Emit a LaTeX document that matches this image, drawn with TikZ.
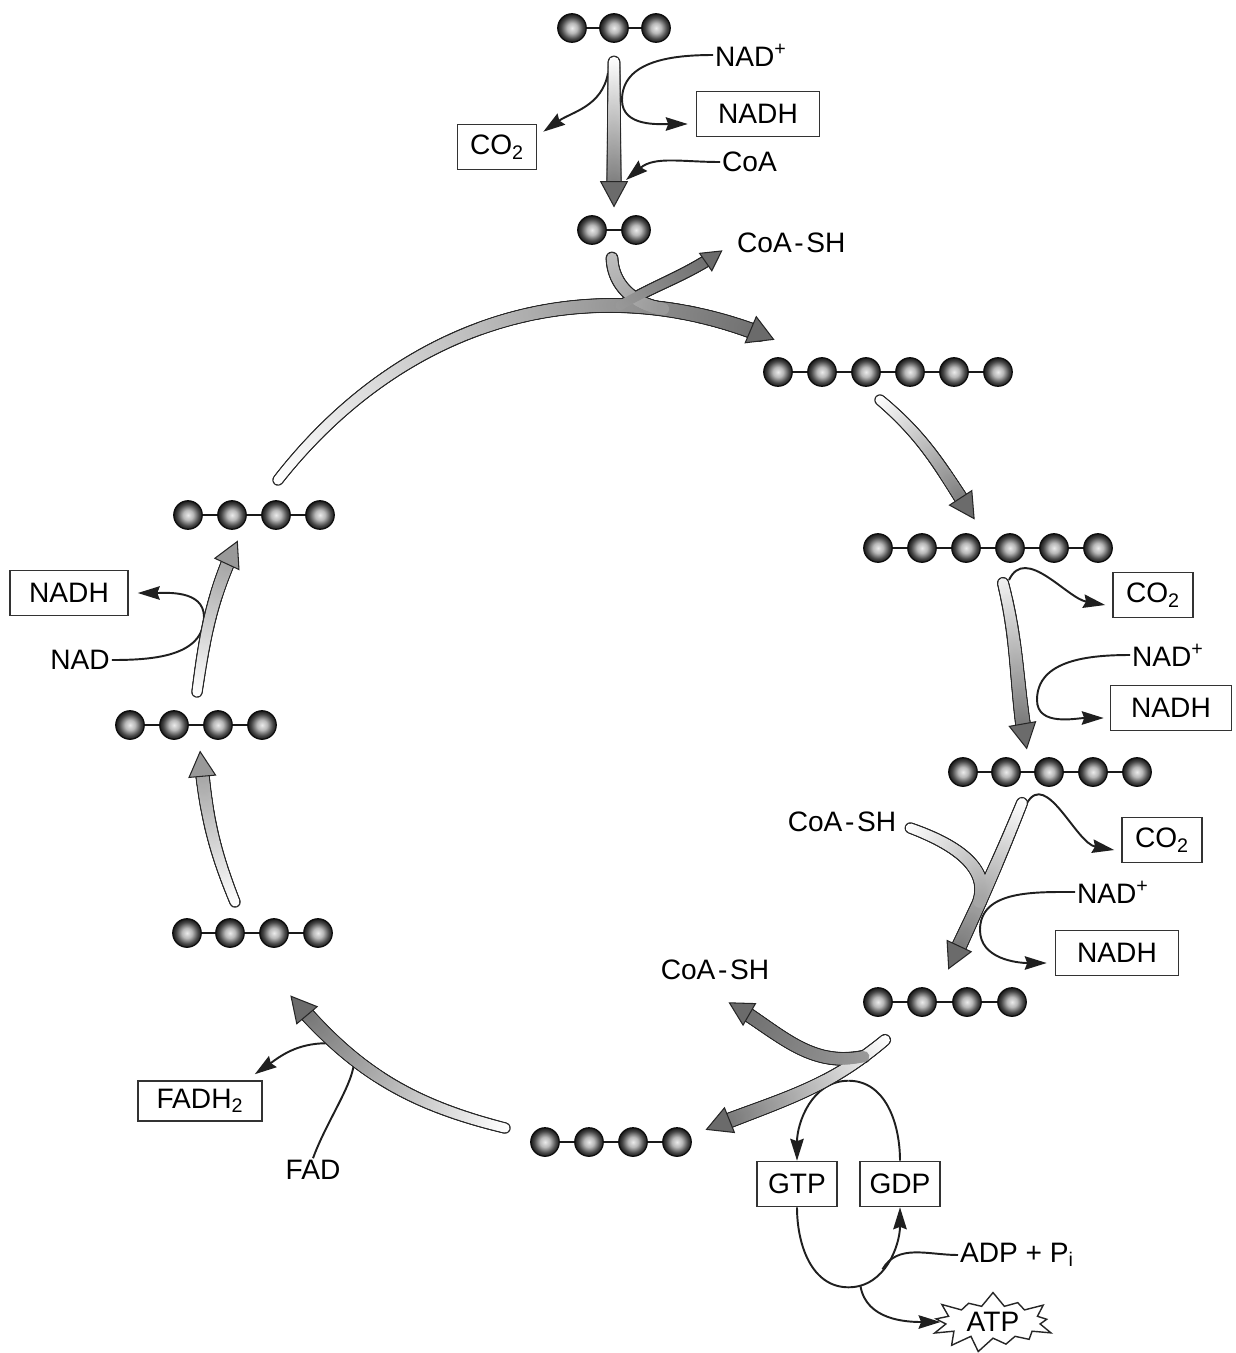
\documentclass[tikz,border=0pt]{standalone}
\usepackage{tikz}
\usetikzlibrary{arrows.meta,decorations.markings,calc,shapes.symbols}
\usepackage{fontspec}
\setmainfont{Liberation Sans}
\pgfdeclareradialshading{molball}{\pgfpoint{0bp}{0bp}}{color(0bp)=(black!8); color(9bp)=(black!28); color(19bp)=(black!72); color(25bp)=(black!90); color(50bp)=(black!92)}
\newcommand\molchain[3]{%
  \foreach \xx [count=\ii] in {#3} {\node[ball] (#1\ii) at (\xx,-#2) {};}
  \foreach \xx [count=\ii, remember=\ii as \jj (initially 0)] in {#3} {\ifnum\jj>0 \draw[bond] (#1\jj.east) -- (#1\ii.west);\fi}
}
\newcommand\coash{CoA\kern1.5pt-\kern1.5pt SH}
\begin{document}
\begin{tikzpicture}[x=0.02cm,y=0.02cm,
  ball/.style={circle, minimum size=0.57cm, inner sep=0pt, shading=molball, draw=black!95, line width=0.7pt},
  bond/.style={draw=black!90, line width=1.3pt},
  lbl/.style={font=\fontsize{16}{19}\selectfont, inner sep=1pt},
  box/.style={lbl, draw=black!80, line width=0.9pt, fill=white, minimum height=0.9cm, inner xsep=2pt},
  burst/.style={lbl, shape=starburst, draw=black!85, fill=white, line width=0.8pt, starburst points=13, starburst point height=0.3cm, minimum width=2.5cm, minimum height=1.2cm, random starburst=40},
  tline/.style={draw=black!88, line width=1.1pt},
  tarr/.style={tline, -{Stealth[length=0.44cm, width=0.27cm, inset=0.05cm]}},
  bandout/.style n args={3}{postaction={decorate,decoration={markings,
    mark=between positions 0 and #3 step 0.7pt with {%
      \pgfmathsetmacro\bandfrac{\pgfkeysvalueof{/pgf/decoration/mark info/distance from start}/\pgfdecoratedpathlength}%
      \pgfmathsetlengthmacro\bandrad{#1+(#2-#1)*\bandfrac+0.65pt}%
      \fill[black!85] (0,0) circle[radius=\bandrad];}}}},
  bandfill/.style n args={5}{postaction={decorate,decoration={markings,
    mark=between positions 0 and #5 step 0.7pt with {%
      \pgfmathsetmacro\bandfrac{\pgfkeysvalueof{/pgf/decoration/mark info/distance from start}/\pgfdecoratedpathlength}%
      \pgfmathsetlengthmacro\bandrad{#3+(#4-#3)*\bandfrac}%
      \pgfmathsetmacro\bandcol{#1+(#2-#1)*\bandfrac}%
      \fill[black!\bandcol] (0,0) circle[radius=\bandrad];}}}},
  band/.style n args={5}{bandout={#3}{#4}{#5}, bandfill={#1}{#2}{#3}{#4}{#5}},
  tipmark/.style n args={3}{postaction={decorate,decoration={markings,
    mark=at position -0.3pt with {\arrow[black!85, line width=0.6pt]{Triangle[length=#2, width=#3, fill=black!#1]}}}}}
]
\useasboundingbox (0,0) rectangle (1235,-1353);

% molecules
\molchain{pyr}{28}{572,614,656}
\molchain{ace}{230}{592,636}
\molchain{cit}{372}{778,822,866,910,954,998}
\molchain{iso}{548}{878,922,966,1010,1054,1098}
\molchain{akg}{772}{963,1006,1049,1093,1137}
\molchain{scoa}{1002}{878,922,967,1012}
\molchain{suc}{1142}{545,589,633,677}
\molchain{fum}{933}{187,230,274,318}
\molchain{mal}{725}{130,174,218,262}
\molchain{oaa}{515}{188,232,276,320}

% labels
\node[lbl, anchor=west] (nadA) at (713,-55) {NAD\textsuperscript{+}};
\node[box, minimum width=2.46cm] (nadhA) at (758,-114) {NADH};
\node[box, minimum width=1.58cm] (co2A) at (497,-147) {CO\textsubscript{2}};
\node[lbl, anchor=west] (coaA) at (720,-162) {CoA};
\node[lbl, anchor=west] (coashA) at (735,-243) {\coash};
\node[box, minimum width=1.6cm] (co2B) at (1153,-595) {CO\textsubscript{2}};
\node[lbl, anchor=west] (nadB) at (1130,-655) {NAD\textsuperscript{+}};
\node[box, minimum width=2.42cm] (nadhB) at (1171,-708) {NADH};
\node[lbl] (coashB) at (842,-822) {\coash};
\node[box, minimum width=1.6cm] (co2C) at (1162,-840) {CO\textsubscript{2}};
\node[lbl, anchor=west] (nadC) at (1075,-892) {NAD\textsuperscript{+}};
\node[box, minimum width=2.46cm] (nadhC) at (1117,-953) {NADH};
\node[lbl] (coashC) at (715,-970) {\coash};
\node[box, minimum width=1.6cm] (gtp) at (797,-1184) {GTP};
\node[box, minimum width=1.6cm] (gdp) at (900,-1184) {GDP};
\node[lbl, anchor=west] (adp) at (958,-1255) {ADP + P\textsubscript{i}};
\node[burst] (atp) at (993,-1322) {ATP};
\node[lbl] (fad) at (313,-1170) {FAD};
\node[box, minimum width=2.48cm, minimum height=0.8cm] (fadh) at (200,-1101) {FADH\textsubscript{2}};
\node[lbl] (nadD) at (80,-660) {NAD};
\node[box, minimum width=2.36cm] (nadhD) at (69,-593) {NADH};

% thin arrows
\draw[tarr] ($(pyr2)+(-6,-45)$) to[out=-100,in=35] ($(co2A.north east)+(6,-8)$);
\draw[tarr] (nadA.west) to[out=180,in=90] ($(pyr2)+(8,-72)$) to[out=-90,in=180] ($(nadhA.west)+(-8,-10)$);
\draw[tarr] (coaA.west) to[out=180,in=40] ($(pyr2)+(12,-152)$);
\draw[tarr] ($(iso4)+(-1,-32)$) to[out=65,in=170] ($(co2B.west)+(-7,-10)$);
\draw[tarr] (nadB.west) to[out=180,in=90] ($(akg2)+(31,72)$) to[out=-90,in=180] ($(nadhB.west)+(-6,-10)$);
\draw[tarr] ($(akg2)+(21,-31)$) to[out=60,in=170] ($(co2C.west)+(-7,-10)$);
\draw[tarr] (nadC.west) to[out=180,in=90] ($(scoa3)+(13,72)$) to[out=-90,in=180] ($(nadhC.west)+(-8,-10)$);
\coordinate (looptop) at ($(gtp.north)!0.5!(gdp.north)+(0,80)$);
\coordinate (loopbot) at ($(gtp.south)!0.5!(gdp.south)+(0,-80)$);
\draw[tline] (gdp.north) to[out=90,in=0] (looptop);
\draw[tarr] (looptop) to[out=180,in=90] (gtp.north);
\draw[tarr] (gtp.south) to[out=-90,in=180] (loopbot) to[out=0,in=-90] (gdp.south);
\draw[tline] (adp.west) to[out=180,in=60] ($(loopbot)+(34,18)$);
\draw[tarr] ($(loopbot)+(12,1)$) to[out=-80,in=180] (atp.west);
\draw[tarr] (fad.north) to[out=70,in=0,looseness=1.3] ($(fad.north)+(14,115)$) to[out=180,in=35] ($(fadh.north east)+(-8,6)$);
\draw[tarr] (nadD.east) to[out=0,in=-90] ($(mal2)+(30,108)$) to[out=90,in=0] ($(nadhD.east)+(9,0)$);

% band arrows
\path[band={0}{58}{3pt}{3.8pt}{-12pt}, tipmark={58}{15pt}{16pt}] ($(pyr2)+(0,-34)$) -- ($(ace1)!0.5!(ace2)+(0,22)$);

% top junction
\path[bandout={2.6pt}{4pt}{-12pt}] ($(oaa3)!0.5!(oaa4)+(-20,35)$) to[out=52,in=157] coordinate[pos=0.8] (jA) coordinate[pos=0.72] (jB) ($(cit1)+(-3,32)$);
\path[bandout={3pt}{3.4pt}{1}] ($(ace1)!0.5!(ace2)+(-2,-28)$) to[out=-88,in=172] (jA);
\path[bandout={2.6pt}{3pt}{-10pt}] (jB) to[out=30,in=-145] ($(coashA.west)+(-12,-7)$);
\path[bandfill={0}{58}{2.6pt}{4pt}{-12pt}, tipmark={58}{15pt}{17pt}] ($(oaa3)!0.5!(oaa4)+(-20,35)$) to[out=52,in=157] ($(cit1)+(-3,32)$);
\path[bandfill={25}{40}{3pt}{3.4pt}{1}] ($(ace1)!0.5!(ace2)+(-2,-28)$) to[out=-88,in=172] (jA);
\path[bandfill={40}{58}{2.6pt}{3pt}{-10pt}, tipmark={58}{12pt}{13pt}] (jB) to[out=30,in=-145] ($(coashA.west)+(-12,-7)$);

\path[band={0}{58}{2.6pt}{3.6pt}{-12pt}, tipmark={58}{15pt}{16pt}] ($(cit3)+(14,-28)$) to[out=-40,in=123] ($(iso3)+(9,28)$);
\path[band={5}{58}{2.8pt}{4pt}{-12pt}, tipmark={58}{15pt}{16pt}] ($(iso4)+(-7,-35)$) to[out=-76,in=100] ($(akg2)+(21,22)$);

% right junction
\path[bandout={2.8pt}{4pt}{-12pt}] ($(akg2)+(16,-31)$) to[out=-112,in=65] coordinate[pos=0.6] (jC) ($(scoa2)+(26,32)$);
\path[bandout={2.6pt}{3.6pt}{1}] ($(coashB.east)+(12,-6)$) to[out=-20,in=72] (jC);
\path[bandfill={0}{58}{2.8pt}{4pt}{-12pt}, tipmark={58}{15pt}{16pt}] ($(akg2)+(16,-31)$) to[out=-112,in=65] ($(scoa2)+(26,32)$);
\path[bandfill={0}{35}{2.6pt}{3.6pt}{1}] ($(coashB.east)+(12,-6)$) to[out=-20,in=72] (jC);

% bottom junction
\path[bandout={2.8pt}{4pt}{-12pt}] ($(scoa1)+(7,-38)$) to[out=-140,in=22] coordinate[pos=0.12] (jD) ($(suc4)+(28,12)$);
\path[bandout={3.2pt}{3.6pt}{-11pt}] (jD) to[out=192,in=-30] ($(coashC)+(13,-32)$);
\path[bandfill={0}{58}{2.8pt}{4pt}{-12pt}, tipmark={58}{15pt}{16pt}] ($(scoa1)+(7,-38)$) to[out=-140,in=22] ($(suc4)+(28,12)$);
\path[bandfill={40}{58}{3.2pt}{3.6pt}{-11pt}, tipmark={58}{14pt}{15pt}] (jD) to[out=192,in=-30] ($(coashC)+(13,-32)$);

\path[band={0}{58}{2.6pt}{3.8pt}{-12pt}, tipmark={58}{15pt}{16pt}] ($(suc1)+(-40,14)$) to[out=166,in=-50] ($(fum3)+(16,-62)$);
\path[band={0}{40}{2.6pt}{3.6pt}{-12pt}, tipmark={40}{15pt}{16pt}] ($(fum2)+(5,31)$) to[out=112,in=-85] ($(mal2)+(26,-25)$);
\path[band={0}{40}{2.6pt}{3.6pt}{-12pt}, tipmark={40}{15pt}{16pt}] ($(mal3)+(-21,33)$) to[out=82,in=-115] ($(oaa2)+(6,-25)$);
\end{tikzpicture}
\end{document}
